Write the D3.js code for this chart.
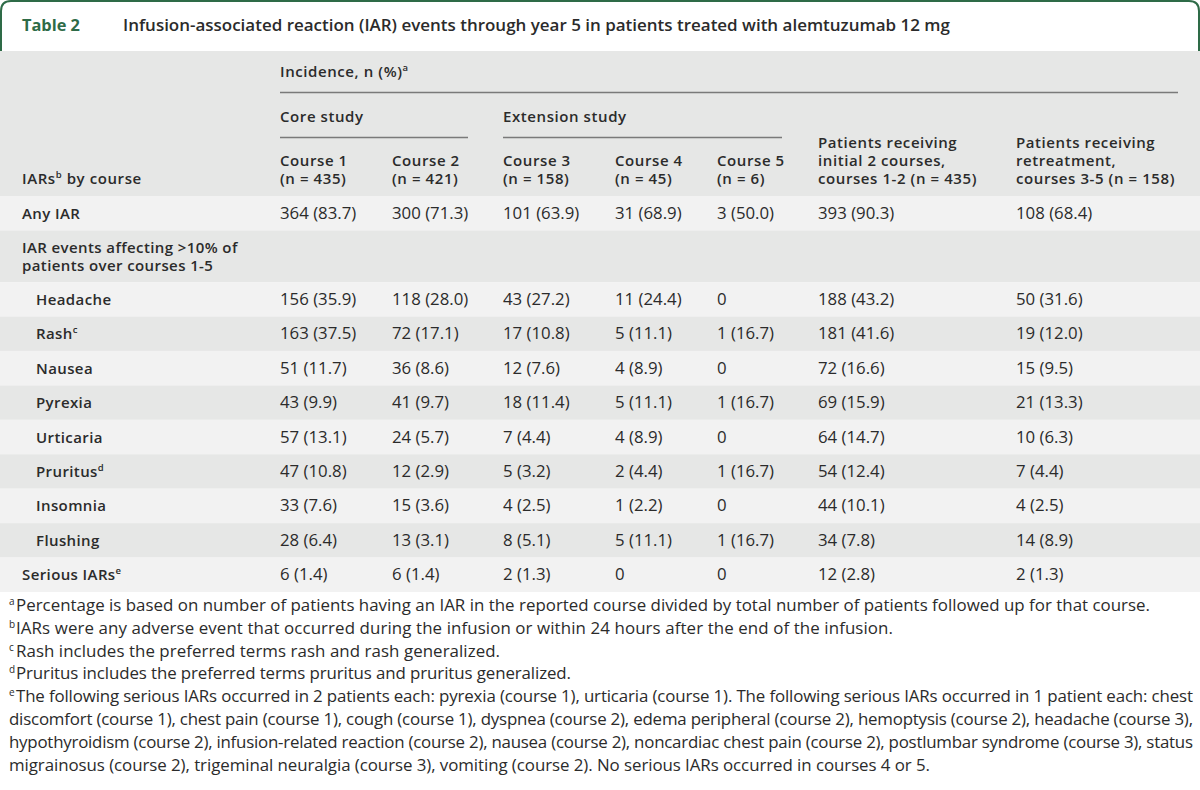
<!DOCTYPE html>
<html>
<head>
<meta charset="utf-8">
<script src="https://cdn.jsdelivr.net/npm/d3@7/dist/d3.min.js"></script>
<style>
  html, body { margin: 0; padding: 0; background: #ffffff; }
  svg { display: block; font-family: "Open Sans", Roboto, "Noto Sans", Arial, sans-serif; }
</style>
</head>
<body>
<svg id="chart" width="1200" height="790"></svg>
<script>
// ---------- data ----------
const tableNumber = "Table 2";
const tableTitle = "Infusion-associated reaction (IAR) events through year 5 in patients treated with alemtuzumab 12 mg";

const rowLabels = ["Any IAR", "IAR events affecting >10% of|patients over courses 1-5", "Headache", "Rash", "Nausea",
  "Pyrexia", "Urticaria", "Pruritus", "Insomnia", "Flushing", "Serious IARs"];
const rowSup = ["", "", "", "c", "", "", "", "d", "", "", "e"];
const rowIndent = [0, 0, 1, 1, 1, 1, 1, 1, 1, 1, 0];
const rowUnits = [1, 1.5, 1, 1, 1, 1, 1, 1, 1, 1, 1];

const columnKeys = ["c1", "c2", "c3", "c4", "c5", "init", "retr"];
const columnHeaders = [
  ["Course 1", "(n = 435)"],
  ["Course 2", "(n = 421)"],
  ["Course 3", "(n = 158)"],
  ["Course 4", "(n = 45)"],
  ["Course 5", "(n = 6)"],
  ["Patients receiving", "initial 2 courses,", "courses 1-2 (n = 435)"],
  ["Patients receiving", "retreatment,", "courses 3-5 (n = 158)"]
];

// counts (n) and percentages (%) per column; null = blank cell
const course1N = [364, null, 156, 163, 51, 43, 57, 47, 33, 28, 6];
const course1P = [83.7, null, 35.9, 37.5, 11.7, 9.9, 13.1, 10.8, 7.6, 6.4, 1.4];
const course2N = [300, null, 118, 72, 36, 41, 24, 12, 15, 13, 6];
const course2P = [71.3, null, 28.0, 17.1, 8.6, 9.7, 5.7, 2.9, 3.6, 3.1, 1.4];
const course3N = [101, null, 43, 17, 12, 18, 7, 5, 4, 8, 2];
const course3P = [63.9, null, 27.2, 10.8, 7.6, 11.4, 4.4, 3.2, 2.5, 5.1, 1.3];
const course4N = [31, null, 11, 5, 4, 5, 4, 2, 1, 5, 0];
const course4P = [68.9, null, 24.4, 11.1, 8.9, 11.1, 8.9, 4.4, 2.2, 11.1, null];
const course5N = [3, null, 0, 1, 0, 1, 0, 1, 0, 1, 0];
const course5P = [50.0, null, null, 16.7, null, 16.7, null, 16.7, null, 16.7, null];
const initialN = [393, null, 188, 181, 72, 69, 64, 54, 44, 34, 12];
const initialP = [90.3, null, 43.2, 41.6, 16.6, 15.9, 14.7, 12.4, 10.1, 7.8, 2.8];
const retreatN = [108, null, 50, 19, 15, 21, 10, 7, 4, 14, 2];
const retreatP = [68.4, null, 31.6, 12.0, 9.5, 13.3, 6.3, 4.4, 2.5, 8.9, 1.3];

const groupHeaders = [
  { label: "Incidence, n (%)", sup: "a", from: "c1", to: "end" },
  { label: "Core study", sup: "", from: "c1", to: "c2end" },
  { label: "Extension study", sup: "", from: "c3", to: "c5end" }
];

const footnotes = [
  { sup: "a", lines: ["Percentage is based on number of patients having an IAR in the reported course divided by total number of patients followed up for that course."] },
  { sup: "b", lines: ["IARs were any adverse event that occurred during the infusion or within 24 hours after the end of the infusion."] },
  { sup: "c", lines: ["Rash includes the preferred terms rash and rash generalized."] },
  { sup: "d", lines: ["Pruritus includes the preferred terms pruritus and pruritus generalized."] },
  { sup: "e", lines: [
    "The following serious IARs occurred in 2 patients each: pyrexia (course 1), urticaria (course 1). The following serious IARs occurred in 1 patient each: chest",
    "discomfort (course 1), chest pain (course 1), cough (course 1), dyspnea (course 2), edema peripheral (course 2), hemoptysis (course 2), headache (course 3),",
    "hypothyroidism (course 2), infusion-related reaction (course 2), nausea (course 2), noncardiac chest pain (course 2), postlumbar syndrome (course 3), status",
    "migrainosus (course 2), trigeminal neuralgia (course 3), vomiting (course 2). No serious IARs occurred in courses 4 or 5."
  ] }
];
// approximate right edge of each footnote line in the reference (layout, px)
const footnoteLineEnds = [1150, 893, 500, 571, 1193, 1193, 1193, 930];

// ---------- layout ----------
const W = 1200;
const green = "#2e6b47";
const textCol = "#2b2b2b";
const bgDark = "#e6e7e6";
const bgLight = "#f2f2f2";
const lineCol = "#7a7a7a";

const svg = d3.select("#chart");

function measure(str, size, weight, ls) {
  const t = svg.append("text").attr("font-size", size).attr("font-weight", weight)
    .attr("letter-spacing", ls || 0).text(str);
  const w = t.node().getComputedTextLength();
  t.remove();
  return w;
}
function fit(samples, targets, weight, base, lo, hi) {
  const m = d3.sum(samples, s => measure(s, base, weight));
  const s = base * d3.sum(targets) / m;
  return Math.max(lo, Math.min(hi, s));
}
function fitSpacing(samples, targets, weight, size, lo, hi) {
  const m = d3.sum(samples, s => measure(s, size, weight));
  const n = d3.sum(samples, s => s.length);
  return Math.max(lo, Math.min(hi, (d3.sum(targets) - m) / n));
}

const titleSize = fit([tableTitle], [827], 600, 16, 14, 19);
const numSize = fit([tableNumber], [58], 700, 16, 14, 19);
const headSize = 15;
const headLS = fitSpacing(["Patients receiving", "courses 1-2 (n = 435)", "Course 1", "courses 3-5 (n = 158)"], [131, 163, 69, 162], 600, headSize, -0.3, 1.2);
const labelSize = 15;
const labelLS = fitSpacing(["Any IAR", "Headache", "Serious IARs", "IAR events affecting >10% of"], [58, 71, 91, 223], 600, labelSize, -0.3, 1.2);
const valueSize = fit(["364 (83.7)", "393 (90.3)", "108 (68.4)"], [77, 76, 76], 400, 15, 13.5, 17);

const seriesN = [course1N, course2N, course3N, course4N, course5N, initialN, retreatN];
const seriesP = [course1P, course2P, course3P, course4P, course5P, initialP, retreatP];

const x = d3.scaleOrdinal()
  .domain(["label", "labelIndent", ...columnKeys, "c2end", "c5end", "end", "fn", "fnText"])
  .range([22, 36, 280, 392, 503, 615, 717, 818, 1016, 468, 782, 1178, 9, 16]);

// cumulative row units -> pixels
const cum = [0];
rowUnits.forEach((u, i) => cum.push(cum[i] + u));
const y = d3.scaleLinear().domain([0, cum[cum.length - 1]]).range([196, 592]);

// header vertical scale
const hy = d3.scaleLinear().domain([0, 1]).range([51, 196]);

// ---------- title box ----------
const r = 10;
svg.append("path")
  .attr("d", `M1,51 L1,${1 + r} Q1,1 ${1 + r},1 L${W - 1 - r},1 Q${W - 1},1 ${W - 1},${1 + r} L${W - 1},51`)
  .attr("fill", "none").attr("stroke", green).attr("stroke-width", 2);

svg.append("text").attr("x", x("label")).attr("y", 31)
  .attr("font-size", numSize).attr("font-weight", 700).attr("fill", green).text(tableNumber);
svg.append("text").attr("x", 123).attr("y", 31)
  .attr("font-size", titleSize).attr("font-weight", 600).attr("fill", textCol).text(tableTitle);

// ---------- header ----------
svg.append("rect").attr("x", 0).attr("y", hy(0)).attr("width", W).attr("height", hy(1) - hy(0)).attr("fill", bgDark);

const gh = svg.append("g").attr("font-size", headSize).attr("font-weight", 600)
  .attr("letter-spacing", headLS).attr("fill", textCol);

const groupRowY = [77, 122];
groupHeaders.forEach((g, i) => {
  const ty = i === 0 ? groupRowY[0] : groupRowY[1];
  const t = gh.append("text").attr("x", x(g.from)).attr("y", ty).text(g.label);
  if (g.sup) t.append("tspan").attr("font-size", 9.5).attr("dy", -6).text(g.sup);
  const ly = i === 0 ? 92.5 : 137.5;
  svg.append("line").attr("x1", x(g.from)).attr("x2", x(g.to)).attr("y1", ly).attr("y2", ly)
    .attr("stroke", lineCol).attr("stroke-width", 1.6);
});

const hLineY = [148, 166, 184];
columnHeaders.forEach((lines, ci) => {
  const offset = 3 - lines.length;
  const t = gh.append("text").attr("x", x(columnKeys[ci])).attr("y", hLineY[offset]);
  lines.forEach((ln, li) => {
    t.append("tspan").attr("x", x(columnKeys[ci])).attr("y", hLineY[li + offset]).text(ln);
  });
});
const stubHead = gh.append("text").attr("x", x("label")).attr("y", hLineY[2]).text("IARs");
stubHead.append("tspan").attr("font-size", 9.5).attr("dy", -6).text("b");
stubHead.append("tspan").attr("dy", 6).text(" by course");

// ---------- body rows ----------
const rows = svg.append("g");
rowLabels.forEach((lab, i) => {
  const y0 = y(cum[i]), y1 = y(cum[i + 1]);
  rows.append("rect").attr("x", 0).attr("y", y0).attr("width", W).attr("height", y1 - y0)
    .attr("fill", i % 2 === 0 ? bgLight : bgDark);
  const parts = lab.split("|");
  const lx = rowIndent[i] ? x("labelIndent") : x("label");
  const mid = (y0 + y1) / 2;
  const t = rows.append("text").attr("x", lx)
    .attr("font-size", labelSize).attr("font-weight", 600).attr("letter-spacing", labelLS).attr("fill", textCol);
  parts.forEach((p, pi) => {
    const ty = mid + 5.5 + (pi - (parts.length - 1) / 2) * 18.2;
    t.append("tspan").attr("x", lx).attr("y", ty).text(p);
  });
  if (rowSup[i]) t.append("tspan").attr("font-size", 9.5).attr("dy", -6).text(rowSup[i]);
  if (parts.length === 1) {
    columnKeys.forEach((k, ci) => {
      const n = seriesN[ci][i];
      if (n === null) return;
      const p = seriesP[ci][i];
      const s = p === null ? `${n}` : `${n} (${p.toFixed(1)})`;
      rows.append("text").attr("x", x(k)).attr("y", mid + 5.5)
        .attr("font-size", valueSize).attr("font-weight", 400).attr("fill", textCol).text(s);
    });
  }
});

// ---------- footnotes ----------
const fnLines = [];
footnotes.forEach(f => f.lines.forEach((ln, j) => fnLines.push({ sup: j === 0 ? f.sup : "", text: ln, x0: j === 0 ? x("fnText") : x("fn") })));
fnLines.forEach((d, i) => d.target = footnoteLineEnds[i] - d.x0);
const fnFree = fnLines.filter((d, i) => [0, 1, 2, 3, 7].includes(i));
const fnSize = fit(fnFree.map(d => d.text), fnFree.map(d => d.target), 400, 16, 14.5, 17.5);

const fy = d3.scaleLinear().domain([0, 1]).range([611, 633.8]);
const fg = svg.append("g").attr("font-size", fnSize).attr("fill", textCol);
fnLines.forEach((d, i) => {
  if (d.sup) fg.append("text").attr("x", x("fn")).attr("y", fy(i) - 6).attr("font-size", 10).text(d.sup);
  fg.append("text").attr("x", d.x0).attr("y", fy(i))
    .attr("textLength", d.target).attr("lengthAdjust", "spacing").text(d.text);
});
</script>
</body>
</html>
